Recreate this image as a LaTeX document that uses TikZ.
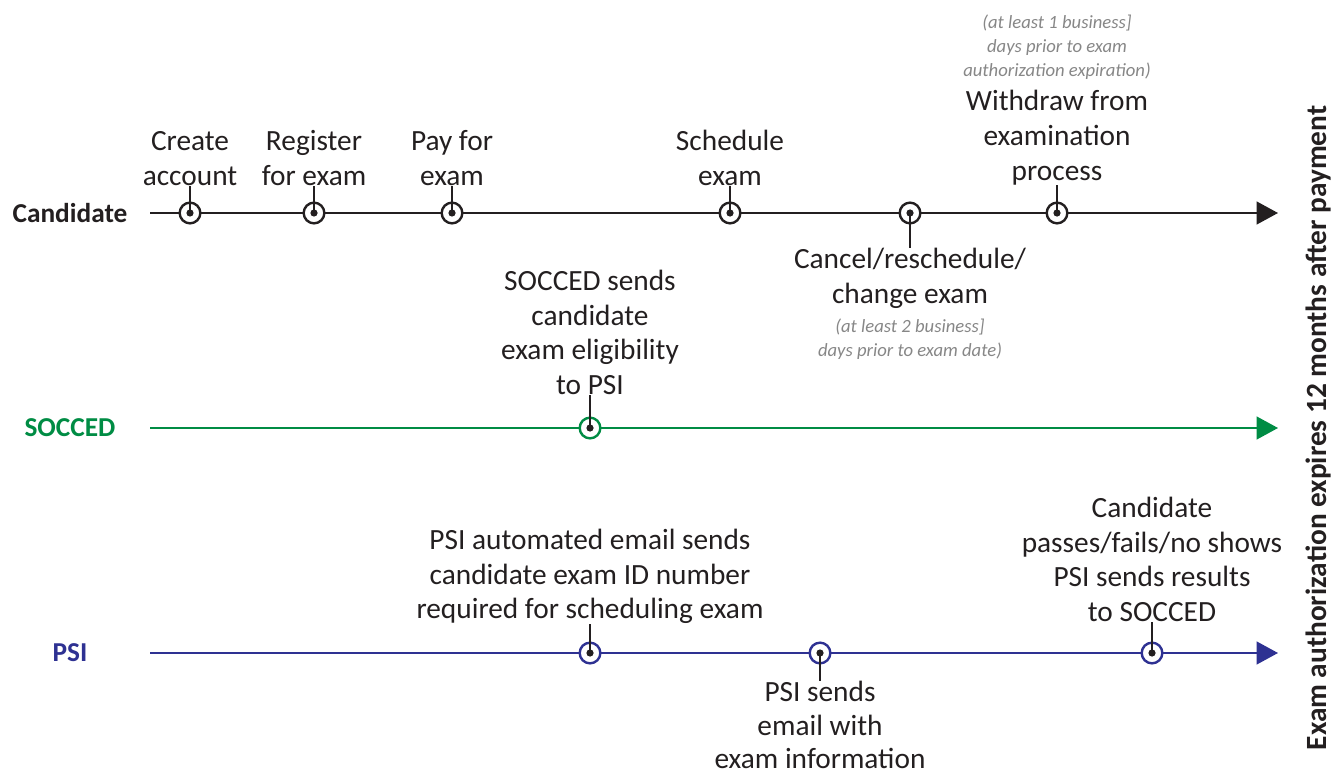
\documentclass[tikz,border=0pt]{standalone}
\usepackage{fontspec}
\setmainfont{Carlito}
\usepackage{xcolor}
\usepackage{tikz}
\usetikzlibrary{arrows.meta}

\definecolor{lnblack}{RGB}{35,31,32}
\definecolor{lngreen}{RGB}{0,140,68}
\definecolor{lnblue}{RGB}{46,49,146}
\definecolor{notegray}{RGB}{135,135,135}

\tikzset{
  lane/.style={line width=1.6pt,-{Triangle[length=16pt,width=17pt]}},
  ev/.style={circle,draw=#1,fill=white,line width=1.8pt,minimum size=15.5pt,inner sep=0pt,
    path picture={\fill[lnblack] (path picture bounding box.center) circle (2.7pt);}},
  evtxt/.style={align=center,inner sep=0pt,text=lnblack,font=\fontsize{22}{25.9}\selectfont},
  note/.style={align=center,inner sep=0pt,text=notegray,font=\fontsize{14}{18}\selectfont\itshape},
  who/.style={inner sep=0pt,font=\fontsize{20.5}{24}\selectfont\bfseries},
  tick/.style={lnblack,line width=1.3pt}
}

\begin{document}
\begin{tikzpicture}[x=0.75pt,y=0.75pt,yscale=-1,xscale=1]
\useasboundingbox (0,0) rectangle (1334,777);

% Lane names
\node[who,text=lnblack] (cand) at (70,213) {Candidate};
\node[who,text=lngreen] (socced) at (70,428) {SOCCED};
\node[who,text=lnblue] (psi) at (70,653) {PSI};

%Straight Lines
\coordinate (candA) at (150,213);
\coordinate (candB) at (1278,213);
\coordinate (soccedA) at (150,428);
\coordinate (soccedB) at (1278,428);
\coordinate (psiA) at (150,653);
\coordinate (psiB) at (1278,653);
\draw[lane,lnblack] (candA) -- (candB);
\draw[lane,lngreen] (soccedA) -- (soccedB);
\draw[lane,lnblue] (psiA) -- (psiB);

% Candidate events
\node[ev=lnblack] (create) at (190,213) {};
\node[ev=lnblack] (register) at (314,213) {};
\node[ev=lnblack] (pay) at (452,213) {};
\node[ev=lnblack] (schedule) at (730,213) {};
\node[ev=lnblack] (cancel) at (910,213) {};
\node[ev=lnblack] (withdraw) at (1057,213) {};

% Text Node
\node[evtxt,anchor=south] (createtxt) at (190,186) {Create\\account};
\node[evtxt,anchor=south] (registertxt) at (314,186) {Register\\for exam};
\node[evtxt,anchor=south] (paytxt) at (452,186) {Pay for\\exam};
\node[evtxt,anchor=south] (scheduletxt) at (730,186) {Schedule\\exam};
\node[evtxt,anchor=north] (canceltxt) at (910,248) {Cancel/reschedule/\\change exam};
\node[note,anchor=north] (cancelnote) at (910,319) {(at least 2 business]\\days prior to exam date)};
\node[evtxt,anchor=south] (withdrawtxt) at (1057,185) {Withdraw from\\examination\\process};
\node[note,anchor=south] (withdrawnote) at (1057,80) {(at least 1 business]\\days prior to exam\\authorization expiration)};

% SOCCED event
\node[ev=lngreen] (eligible) at (590,428) {};
\node[evtxt,anchor=south] (eligibletxt) at (590,395) {SOCCED sends\\candidate\\exam eligibility\\to PSI};

% PSI events
\node[ev=lnblue] (examid) at (590,653) {};
\node[ev=lnblue] (info) at (820,653) {};
\node[ev=lnblue] (results) at (1152,653) {};
\node[evtxt,anchor=south] (examidtxt) at (590,624) {PSI automated email sends\\candidate exam ID number\\required for scheduling exam};
\node[evtxt,anchor=north,font=\fontsize{22}{25.2}\selectfont] (infotxt) at (820,681) {PSI sends\\email with\\exam information};
\node[evtxt,anchor=south] (resultstxt) at (1152,622) {Candidate\\passes/fails/no shows\\PSI sends results\\to SOCCED};

% Ticks
\draw[tick] (create.center) -- (createtxt.south);
\draw[tick] (register.center) -- (registertxt.south);
\draw[tick] (pay.center) -- (paytxt.south);
\draw[tick] (schedule.center) -- (scheduletxt.south);
\draw[tick] (cancel.center) -- (canceltxt.north);
\draw[tick] (withdraw.center) -- (withdrawtxt.south);
\draw[tick] (eligible.center) -- (eligibletxt.south);
\draw[tick] (examid.center) -- (examidtxt.south);
\draw[tick] (info.center) -- (infotxt.north);
\draw[tick] (results.center) -- (resultstxt.south);

% Expiry note
\node[who,font=\fontsize{22}{24}\selectfont\bfseries,text=lnblack,rotate=90] (expiry) at (1318,428) {Exam authorization expires 12 months after payment};

\end{tikzpicture}
\end{document}
